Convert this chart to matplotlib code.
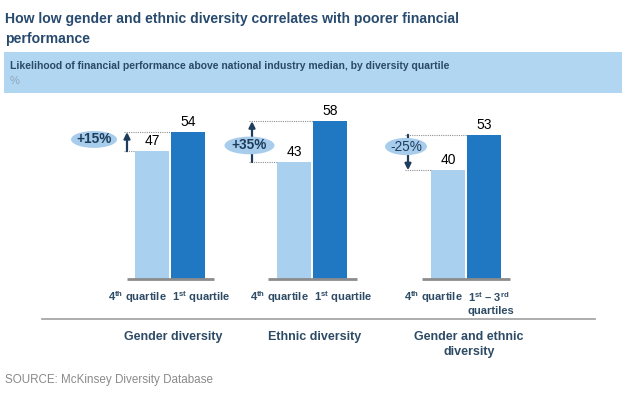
import matplotlib
matplotlib.use("Agg")
import matplotlib.pyplot as plt
from matplotlib.patches import Ellipse, Rectangle

plt.rcParams['font.family'] = ['Liberation Sans', 'DejaVu Sans']
plt.rcParams['mathtext.fontset'] = 'custom'
plt.rcParams['mathtext.rm'] = 'Liberation Sans:bold'
plt.rcParams['mathtext.it'] = 'Liberation Sans:bold'

# data
title_lines = ["How low gender and ethnic diversity correlates with poorer financial", "performance"]
subtitle = "Likelihood of financial performance above national industry median, by diversity quartile"
groups = ["Gender diversity", "Ethnic diversity", "Gender and ethnic\ndiversity"]
low_labels = [r"4$^{\mathrm{th}}$ quartile"] * 3
high_labels = [r"1$^{\mathrm{st}}$ quartile", r"1$^{\mathrm{st}}$ quartile",
               r"1$^{\mathrm{st}}$ – 3$^{\mathrm{rd}}$" + "\nquartiles"]
low_vals = [47, 43, 40]
high_vals = [54, 58, 53]
changes = ["+15%", "+35%", "-25%"]

# layout (x in pixel-like axis units)
group_x = [170, 312, 466]
bar_w = 34
arrow_x = [127, 252, 408]
ell_x = [94, 249.5, 406]
ell_y = [51.3, 49.1, 48.7]
ell_w = [46, 50, 42]
ell_h = [6.2, 6.5, 6.3]
base_span = [(127, 214), (268, 357), (422, 510)]

light = "#a9d0ef"
dark = "#1f78c1"
navy = "#1e3d5c"
title_c = "#274a6e"
label_c = "#2e4b66"

fig = plt.figure(figsize=(6.43, 3.97), dpi=100)
W, H = 643, 397

# title and subtitle box
for k, line in enumerate(title_lines):
    fig.text(5 / W, 1 - (23.5 + 20 * k) / H, line, fontsize=10.1, fontweight='bold',
             color=title_c, va='baseline', ha='left')
fig.patches.append(Rectangle((4 / W, 1 - 93 / H), (622 - 4) / W, 41 / H,
                             transform=fig.transFigure, facecolor="#b0d6f1", edgecolor='none'))
fig.text(10 / W, 1 - 66 / H, subtitle, fontsize=7.45, fontweight='bold', color="#2a4a68",
         va='center', ha='left')
fig.text(10 / W, 1 - 81 / H, "%", fontsize=8, color="#8fa6ba", va='center', ha='left')

ax = fig.add_axes([0, 118 / H, 1, 163.2 / H])
ax.set_xlim(0, W)
ax.set_ylim(0, 60)
ax.axis('off')

ax.bar([g - bar_w / 2 - 1 for g in group_x], low_vals, width=bar_w, color=light, zorder=2)
ax.bar([g + bar_w / 2 + 1 for g in group_x], high_vals, width=bar_w, color=dark, zorder=2)

for i, g in enumerate(group_x):
    lo, hi = low_vals[i], high_vals[i]
    ax.plot(base_span[i], [0, 0], color="#8c8c8c", lw=2, solid_capstyle='butt', zorder=3, clip_on=False)
    ax.text(g - bar_w / 2 - 1, lo + 1.2, str(lo), ha='center', va='bottom', fontsize=10, color='black')
    ax.text(g + bar_w / 2 + 1, hi + 1.2, str(hi), ha='center', va='bottom', fontsize=10, color='black')

    # dotted guides
    ax.plot([arrow_x[i] - 3, g - bar_w - 1], [lo, lo], ls=(0, (1, 1)), color="#909090", lw=0.8, zorder=1)
    ax.plot([arrow_x[i] - 3, g + 1], [hi, hi], ls=(0, (1, 1)), color="#909090", lw=0.8, zorder=1)

    # arrow
    start, end = (lo, hi) if changes[i].startswith('+') else (hi, lo)
    ax.annotate('', xy=(arrow_x[i], end), xytext=(arrow_x[i], start),
                arrowprops=dict(arrowstyle='-|>', color=navy, lw=1.6, mutation_scale=9,
                                shrinkA=0, shrinkB=0), zorder=4)

    ax.add_patch(Ellipse((ell_x[i], ell_y[i]), ell_w[i], ell_h[i], facecolor="#a8cdec",
                         edgecolor='none', zorder=5))
    ax.text(ell_x[i], ell_y[i], changes[i], ha='center', va='center', fontsize=9.8,
            fontweight='bold' if changes[i].startswith('+') else 'normal', color=navy, zorder=6)

    # category labels
    ax.text(g - 3, -6.5, low_labels[i], ha='right', va='center', fontsize=8, fontweight='bold',
            color=label_c, clip_on=False)
    multi = '\n' in high_labels[i]
    ax.text(g + 2, -4.3 if multi else -6.5, high_labels[i], ha='left', va='top' if multi else 'center',
            fontsize=8, fontweight='bold', color=label_c, clip_on=False, linespacing=1.25)

    ax.text(g + 3, -19.3, groups[i], ha='center', va='top', fontsize=9, fontweight='bold',
            color=label_c, clip_on=False, linespacing=1.25)

# separator line
fig.lines.append(plt.Line2D([42 / W, 595 / W], [1 - 319 / H] * 2, transform=fig.transFigure,
                            color="#a0a0a0", lw=1.2))

fig.text(5 / W, 1 - 380 / H, "SOURCE: McKinsey Diversity Database", fontsize=8.4, color="#8a8a8a",
         va='center', ha='left')

fig.savefig("out.png", dpi=100)
